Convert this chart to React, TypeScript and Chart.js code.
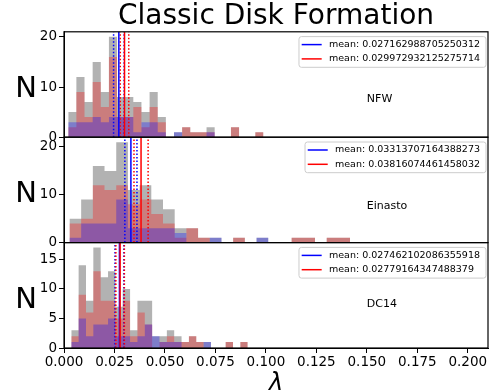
import React, { useEffect, useRef } from 'react';
import { Chart, registerables } from 'chart.js';

Chart.register(...registerables);

const FONT = '"DejaVu Sans", sans-serif';
const TITLE = 'Classic Disk Formation';
const X_LABEL = 'λ';
const Y_LABEL = 'N';
const panelNames = ['NFW', 'Einasto', 'DC14'];

// x axis
const xMin = 0;
const xMax = 0.21;
const xStep = 0.025;

// each panel: 24 equal-width bins between binLo and binHi
const binLo = [0.0021, 0.0027, 0.0036];
const binHi = [0.0988, 0.1417, 0.091];

const allNFW = [5, 12, 7, 15, 9, 20, 8, 8, 7, 5, 9, 4, 0, 1, 2, 1, 1, 2, 0, 0, 2, 0, 0, 1];
const redNFW = [2, 9, 4, 11, 6, 16, 4, 4, 6, 2, 6, 3, 0, 0, 2, 1, 1, 1, 0, 0, 2, 0, 0, 1];
const blueNFW = [3, 3, 3, 4, 3, 4, 4, 4, 1, 3, 3, 1, 0, 1, 0, 0, 0, 1, 0, 0, 0, 0, 0, 0];

const allEinasto = [5, 9, 16, 15, 21, 11, 12, 9, 7, 3, 3, 1, 1, 0, 1, 0, 1, 0, 0, 1, 1, 0, 1, 1];
const redEinasto = [4, 5, 12, 11, 12, 8, 9, 6, 4, 1, 3, 1, 0, 0, 1, 0, 0, 0, 0, 1, 1, 0, 1, 1];
const blueEinasto = [1, 4, 4, 4, 9, 3, 3, 3, 3, 2, 0, 0, 1, 0, 0, 0, 1, 0, 0, 0, 0, 0, 0, 0];

const allDC14 = [3, 14, 8, 17, 12, 13, 7, 10, 3, 8, 8, 2, 2, 3, 2, 1, 2, 1, 1, 0, 0, 1, 0, 1];
const redDC14 = [2, 9, 6, 13, 8, 8, 5, 8, 2, 6, 4, 0, 1, 2, 1, 1, 2, 1, 0, 0, 0, 1, 0, 1];
const blueDC14 = [1, 5, 2, 4, 4, 5, 2, 2, 1, 2, 4, 2, 1, 1, 1, 0, 0, 0, 1, 0, 0, 0, 0, 0];

const allCounts = [allNFW, allEinasto, allDC14];
const redCounts = [redNFW, redEinasto, redDC14];
const blueCounts = [blueNFW, blueEinasto, blueDC14];

const blueMeanText = ['0.027162988705250312', '0.03313707164388273', '0.027462102086355918'];
const redMeanText = ['0.029972932125275714', '0.03816074461458032', '0.02779164347488379'];
const blueErr = [0.0026, 0.003, 0.0022];
const redErr = [0.0021, 0.0035, 0.0021];

const yMax = [21, 22.05, 17.85];
const yStep = 5;
const labelX = 0.15;
const labelY = 7;

const GRAY = 'rgba(0,0,0,0.3)';
const RED = 'rgba(255,0,0,0.3)';
const BLUE = 'rgba(0,0,255,0.3)';

function histPoints(lo: number, hi: number, counts: number[]) {
  const n = counts.length;
  const w = (hi - lo) / n;
  const pts = counts.map((c, i) => ({ x: lo + i * w, y: c }));
  pts.push({ x: hi, y: counts[n - 1] });
  return pts;
}

function vline(x: number, p: number, color: string, dotted: boolean, order: number) {
  return {
    type: 'line',
    label: '',
    data: [
      { x, y: 0 },
      { x, y: yMax[p] },
    ],
    yAxisID: 'y' + p,
    borderColor: color,
    borderWidth: 1.5,
    borderDash: dotted ? [1.5, 2] : [],
    pointRadius: 0,
    fill: false,
    order,
  };
}

function buildDatasets() {
  const ds: any[] = [];
  for (let p = 0; p < 3; p++) {
    const hist = (counts: number[], color: string, order: number) => ({
      type: 'line',
      label: '',
      data: histPoints(binLo[p], binHi[p], counts),
      yAxisID: 'y' + p,
      stepped: 'before',
      fill: 'origin',
      backgroundColor: color,
      borderColor: 'rgba(0,0,0,0)',
      borderWidth: 1,
      pointRadius: 0,
      order,
    });
    ds.push(hist(allCounts[p], GRAY, 30));
    ds.push(hist(redCounts[p], RED, 20));
    ds.push(hist(blueCounts[p], BLUE, 10));
    const bm = Number(blueMeanText[p]);
    const rm = Number(redMeanText[p]);
    ds.push(vline(bm, p, 'rgba(0,0,255,1)', false, 2));
    ds.push(vline(rm, p, 'rgba(255,0,0,1)', false, 1));
    ds.push(vline(bm - blueErr[p], p, 'rgba(0,0,255,1)', true, 4));
    ds.push(vline(bm + blueErr[p], p, 'rgba(0,0,255,1)', true, 4));
    ds.push(vline(rm - redErr[p], p, 'rgba(255,0,0,1)', true, 3));
    ds.push(vline(rm + redErr[p], p, 'rgba(255,0,0,1)', true, 3));
  }
  return ds;
}

const overlayPlugin = {
  id: 'panelOverlay',
  afterDraw(chart: any) {
    const { ctx, chartArea, scales } = chart;
    const xs = scales.x;
    ctx.save();
    for (let p = 0; p < 3; p++) {
      const ys = scales['y' + p];
      const top = ys.top;
      const bottom = ys.bottom;
      // panel frame
      ctx.strokeStyle = '#000';
      ctx.lineWidth = 1.2;
      ctx.strokeRect(chartArea.left, top, chartArea.right - chartArea.left, bottom - top);

      // panel label
      ctx.fillStyle = '#000';
      ctx.font = `11px ${FONT}`;
      ctx.textAlign = 'left';
      ctx.textBaseline = 'alphabetic';
      ctx.fillText(panelNames[p], xs.getPixelForValue(labelX), ys.getPixelForValue(labelY));

      // y label
      ctx.font = `29px ${FONT}`;
      ctx.textAlign = 'center';
      ctx.textBaseline = 'middle';
      ctx.fillText(Y_LABEL, 26, (top + bottom) / 2 + 5);

      // legend
      const entries = [
        { color: 'rgb(0,0,255)', text: 'mean: ' + blueMeanText[p] },
        { color: 'rgb(255,0,0)', text: 'mean: ' + redMeanText[p] },
      ];
      ctx.font = `9.5px ${FONT}`;
      const tw = Math.max(...entries.map((e) => ctx.measureText(e.text).width));
      const padL = 2.7, lineLen = 20, gap = 7.3, padR = 6, padT = 8, rowH = 14.3;
      const w = padL + lineLen + gap + tw + padR;
      const h = 30.7;
      const right = chartArea.right - 2;
      const left = right - w;
      const ltop = top + 4.8;
      const r = 2.5;
      ctx.beginPath();
      ctx.moveTo(left + r, ltop);
      ctx.lineTo(right - r, ltop);
      ctx.quadraticCurveTo(right, ltop, right, ltop + r);
      ctx.lineTo(right, ltop + h - r);
      ctx.quadraticCurveTo(right, ltop + h, right - r, ltop + h);
      ctx.lineTo(left + r, ltop + h);
      ctx.quadraticCurveTo(left, ltop + h, left, ltop + h - r);
      ctx.lineTo(left, ltop + r);
      ctx.quadraticCurveTo(left, ltop, left + r, ltop);
      ctx.closePath();
      ctx.fillStyle = 'rgba(255,255,255,0.8)';
      ctx.fill();
      ctx.strokeStyle = '#cccccc';
      ctx.lineWidth = 1;
      ctx.stroke();
      entries.forEach((e, i) => {
        const y = ltop + padT + i * rowH;
        ctx.strokeStyle = e.color;
        ctx.lineWidth = 1.5;
        ctx.beginPath();
        ctx.moveTo(left + padL, y);
        ctx.lineTo(left + padL + lineLen, y);
        ctx.stroke();
        ctx.fillStyle = '#000';
        ctx.textAlign = 'left';
        ctx.textBaseline = 'middle';
        ctx.fillText(e.text, left + padL + lineLen + gap, y);
      });
    }
    ctx.restore();
  },
};

function buildScales() {
  const scales: any = {
    x: {
      type: 'linear',
      position: 'bottom',
      min: xMin,
      max: xMax,
      ticks: {
        stepSize: xStep,
        includeBounds: false,
        autoSkip: false,
        maxRotation: 0,
        padding: 1,
        color: '#000',
        font: { family: FONT, size: 13.5 },
        callback: (v: any) => Number(v).toFixed(3),
      },
      grid: { drawOnChartArea: false, drawTicks: true, tickLength: 5, color: '#000' },
      border: { display: true, color: '#000', width: 1 },
      title: {
        display: true,
        text: X_LABEL,
        color: '#000',
        font: { family: FONT, size: 24, style: 'italic', lineHeight: 1 },
        padding: { top: 0, bottom: -4 },
      },
      afterFit: (s: any) => {
        s.height = 44;
      },
    },
  };
  for (let p = 0; p < 3; p++) {
    scales['y' + p] = {
      type: 'linear',
      position: 'left',
      stack: 'panels',
      stackWeight: 1,
      weight: 3 - p,
      min: 0,
      max: yMax[p],
      ticks: {
        stepSize: yStep,
        includeBounds: false,
        padding: 2,
        color: '#000',
        font: { family: FONT, size: 13.5 },
        callback: (v: any) => String(Math.round(Number(v))),
      },
      grid: { drawOnChartArea: false, drawTicks: true, tickLength: 5, color: '#000' },
      border: { display: true, color: '#000', width: 1 },
      afterFit: (s: any) => {
        s.width = 64;
      },
    };
  }
  return scales;
}

export default function App() {
  const ref = useRef<HTMLCanvasElement | null>(null);
  useEffect(() => {
    if (!ref.current) return;
    const chart = new Chart(ref.current, {
      type: 'line',
      data: { datasets: buildDatasets() },
      options: {
        responsive: false,
        animation: false,
        devicePixelRatio: 1,
        events: [],
        layout: { padding: { left: 0, right: 2, top: 0, bottom: 0 } },
        plugins: {
          legend: { display: false },
          tooltip: { enabled: false },
          title: {
            display: true,
            text: TITLE,
            color: '#000',
            fullSize: false,
            font: { family: FONT, size: 28, weight: 'normal', lineHeight: 1.1 },
            padding: { top: 1, bottom: 0 },
          },
        },
        scales: buildScales(),
      },
      plugins: [overlayPlugin],
    } as any);
    return () => chart.destroy();
  }, []);
  return (
    <div style={{ position: 'fixed', left: 0, top: 0, width: 490, height: 392, background: '#fff' }}>
      <canvas ref={ref} width={490} height={392} style={{ display: 'block' }} />
    </div>
  );
}
